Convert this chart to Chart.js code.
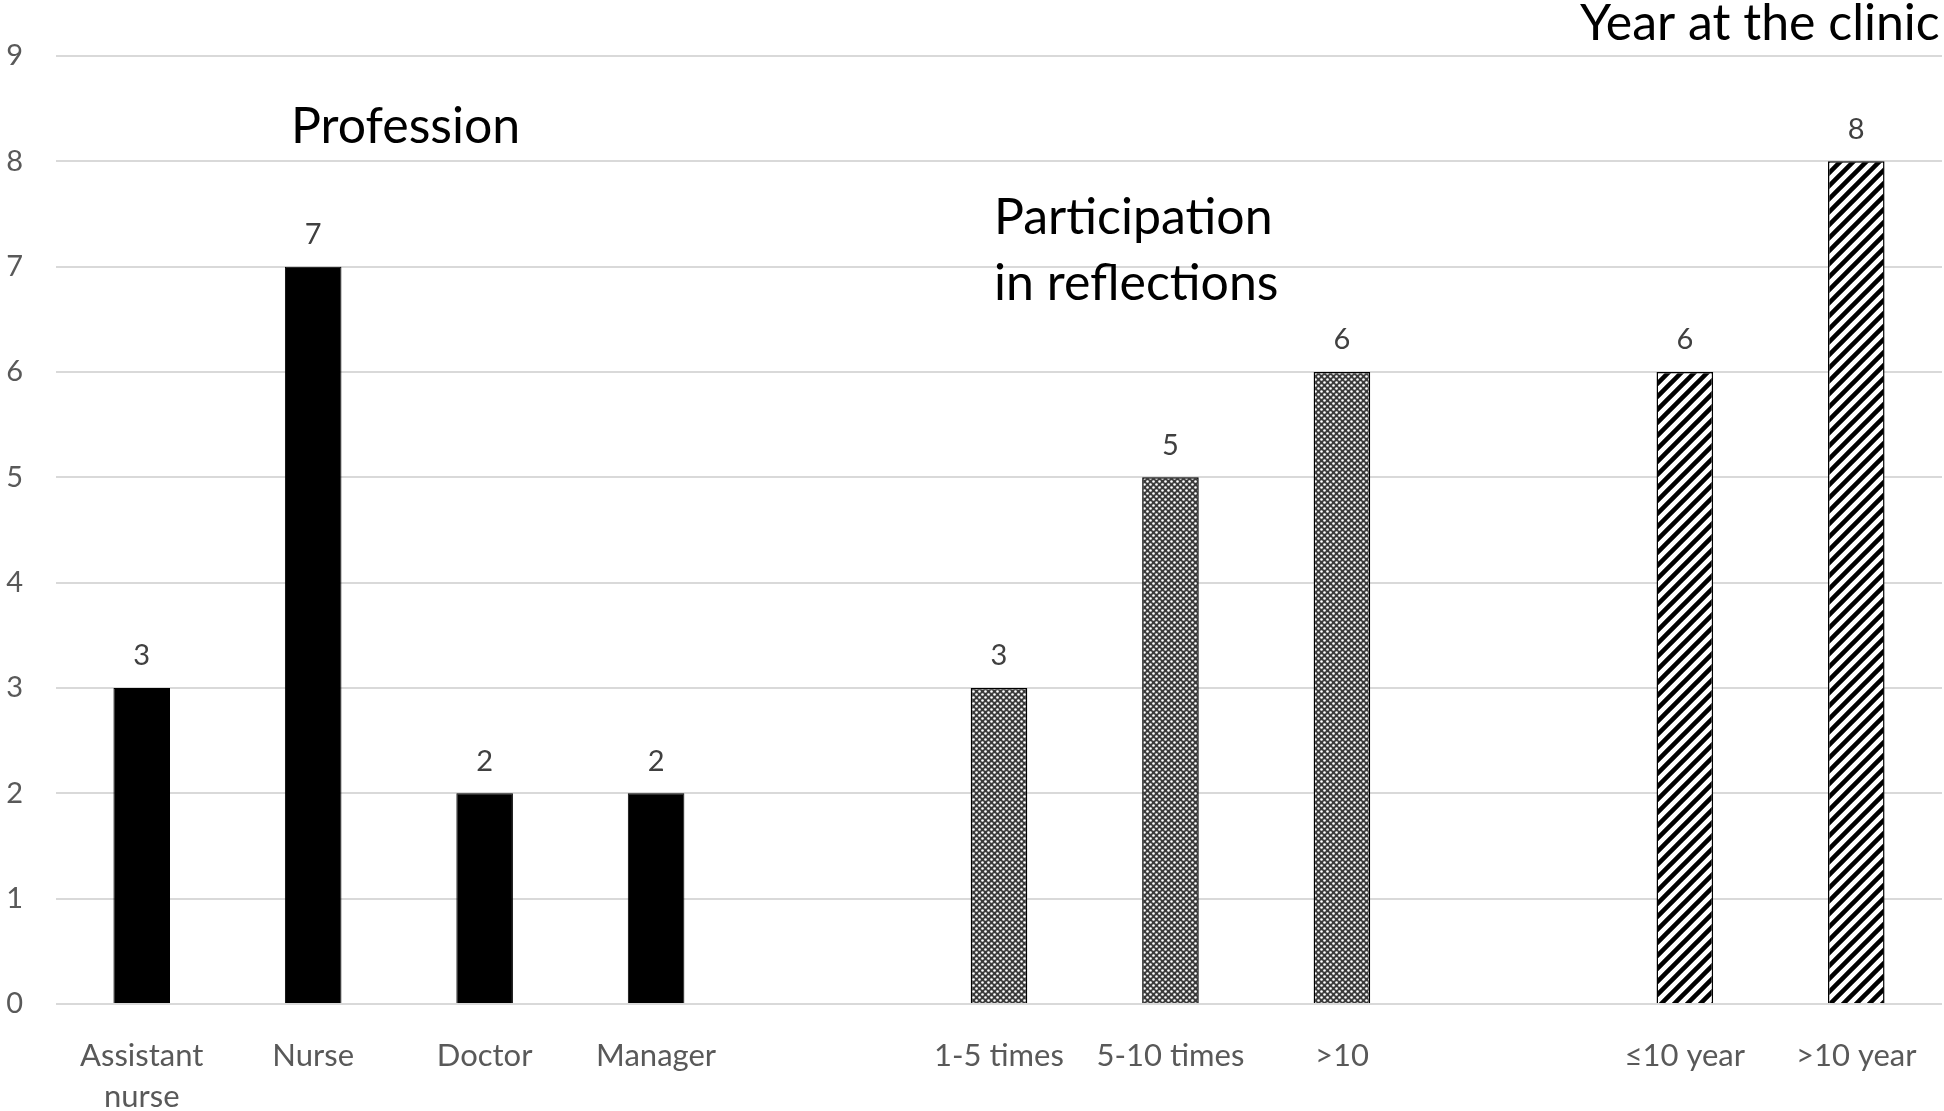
<!DOCTYPE html>
<html>
<head>
<meta charset="utf-8">
<script src="https://cdn.jsdelivr.net/npm/chart.js@4"></script>
<style>
  html, body { margin: 0; padding: 0; background: #fff; }
  #wrap { width: 1944px; height: 1111px; }
</style>
</head>
<body>
<div id="wrap"><canvas id="myChart"></canvas></div>
<script>
// groups of bars //
const professionLabels = [["Assistant", "nurse"], "Nurse", "Doctor", "Manager"];
const professionCounts = [3, 7, 2, 2];
const participationLabels = ["1-5 times", "5-10 times", ">10"];
const participationCounts = [3, 5, 6];
const yearLabels = ["≤10 year", ">10 year"];
const yearCounts = [6, 8];
const yTicks = [0, 1, 2, 3, 4, 5, 6, 7, 8, 9];

// labels with an empty slot between the groups //
const labels = [...professionLabels, "", ...participationLabels, "", ...yearLabels];
const n = labels.length;

function fill(values, start) {
    const arr = new Array(n).fill(null);
    values.forEach(function (v, i) { arr[start + i] = v; });
    return arr;
}

// patterns //
function crossPattern() {
    const c = document.createElement("canvas");
    c.width = 6; c.height = 6;
    const ctx = c.getContext("2d");
    ctx.fillStyle = "#3a3a3a";
    ctx.fillRect(0, 0, 6, 6);
    ctx.fillStyle = "#ffffff";
    [[1.5, 1.5], [4.5, 4.5]].forEach(function (p) {
        ctx.beginPath();
        ctx.arc(p[0], p[1], 1.3, 0, Math.PI * 2);
        ctx.fill();
    });
    return ctx.createPattern(c, "repeat");
}

function stripePattern() {
    const s = 13;
    const c = document.createElement("canvas");
    c.width = s; c.height = s;
    const ctx = c.getContext("2d");
    ctx.fillStyle = "#ffffff";
    ctx.fillRect(0, 0, s, s);
    ctx.strokeStyle = "#000000";
    ctx.lineWidth = 4.5;
    ctx.beginPath();
    ctx.moveTo(-s, s * 2); ctx.lineTo(s * 2, -s);
    ctx.moveTo(-s, s); ctx.lineTo(s, -s);
    ctx.moveTo(0, s * 2); ctx.lineTo(s * 2, 0);
    ctx.stroke();
    return ctx.createPattern(c, "repeat");
}

const font = "Lato, 'Open Sans', sans-serif";

// values above bars and group titles //
const extras = {
    id: "extras",
    afterDatasetsDraw(chart) {
        const ctx = chart.ctx;
        ctx.save();
        ctx.fillStyle = "#404040";
        ctx.font = "29px " + font;
        ctx.textAlign = "center";
        ctx.textBaseline = "middle";
        chart.data.datasets.forEach(function (ds, di) {
            chart.getDatasetMeta(di).data.forEach(function (bar, i) {
                if (ds.data[i] == null) return;
                ctx.fillText(ds.data[i], bar.x, bar.y - 32);
            });
        });
        ctx.fillStyle = "#000000";
        ctx.font = "50px " + font;
        ctx.textAlign = "left";
        ctx.fillText("Profession", 291, 127);
        ctx.fillText("Participation", 994, 218);
        ctx.fillText("in reflections", 994, 284);
        ctx.fillText("Year at the clinic", 1580, 24);
        ctx.restore();
    }
};

const data = {
    labels: labels,
    datasets: [
        {
            label: "Profession",
            data: fill(professionCounts, 0),
            backgroundColor: "#000000",
            borderColor: "#000000",
            borderWidth: 1
        },
        {
            label: "Participation in reflections",
            data: fill(participationCounts, 5),
            backgroundColor: crossPattern(),
            borderColor: "#000000",
            borderWidth: 1.5
        },
        {
            label: "Year at the clinic",
            data: fill(yearCounts, 9),
            backgroundColor: stripePattern(),
            borderColor: "#000000",
            borderWidth: 1.5
        }
    ]
};

const config = {
    type: "bar",
    data: data,
    options: {
        responsive: true,
        maintainAspectRatio: false,
        animation: false,
        datasets: { bar: { categoryPercentage: 1, barPercentage: 0.33 } },
        layout: { padding: { top: 56, right: 2, left: 0, bottom: 0 } },
        plugins: { legend: { display: false }, tooltip: { enabled: false } },
        scales: {
            x: {
                stacked: true,
                grid: { display: false },
                border: { display: false },
                ticks: {
                    color: "#595959",
                    font: { size: 31, family: font, lineHeight: 1.32 },
                    padding: 24,
                    maxRotation: 0,
                    autoSkip: false
                },
                afterFit(scale) { scale.height = 107; }
            },
            y: {
                stacked: true,
                min: yTicks[0],
                max: yTicks[yTicks.length - 1],
                afterBuildTicks(scale) { scale.ticks = yTicks.map(function (v) { return { value: v }; }); },
                grid: { color: "#d9d9d9", lineWidth: 2, drawTicks: false },
                border: { display: false },
                ticks: {
                    color: "#595959",
                    font: { size: 29, family: font },
                    padding: 33
                },
                afterFit(scale) { scale.width = 56; }
            }
        }
    },
    plugins: [extras]
};

const myChart = new Chart(document.getElementById("myChart"), config);
</script>
</body>
</html>
